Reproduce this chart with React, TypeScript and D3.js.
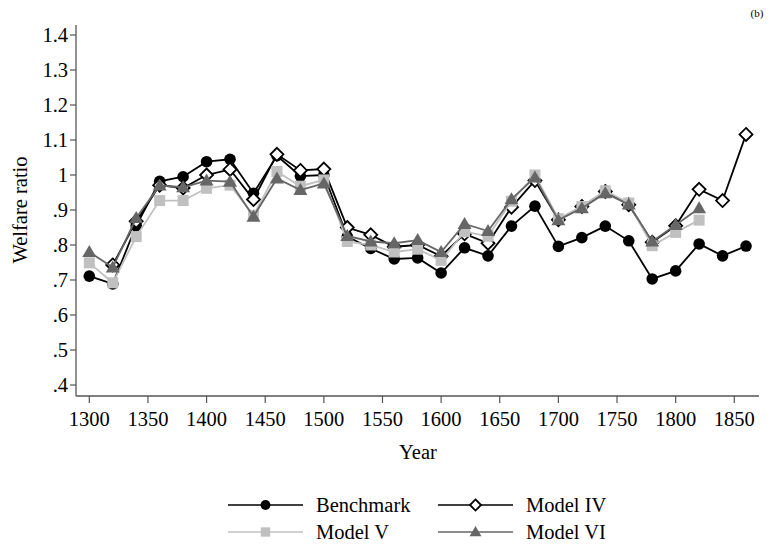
import React from "react";
import * as d3 from "d3";

const years = [1300,1320,1340,1360,1380,1400,1420,1440,1460,1480,1500,1520,1540,1560,1580,1600,1620,1640,1660,1680,1700,1720,1740,1760,1780,1800,1820,1840,1860];

const benchmark = [0.711,0.689,0.855,0.982,0.995,1.038,1.045,0.948,1.055,0.997,1.0,0.824,0.79,0.76,0.763,0.72,0.792,0.769,0.854,0.911,0.796,0.821,0.854,0.812,0.703,0.726,0.803,0.769,0.797];
const modelIV = [null,0.743,0.868,0.971,0.963,1.0,1.016,0.93,1.059,1.013,1.017,0.85,0.829,0.795,0.8,0.768,0.832,0.805,0.908,0.984,0.872,0.91,0.953,0.915,0.808,0.855,0.959,0.927,1.116];
const modelV = [0.749,0.692,0.824,0.927,0.927,0.962,0.971,0.885,1.01,0.968,0.986,0.81,0.8,0.78,0.788,0.756,0.838,0.825,0.925,1.0,0.875,0.91,0.955,0.92,0.798,0.836,0.871,null,null];
const modelVI = [0.78,0.736,0.877,0.97,0.965,0.984,0.981,0.881,0.99,0.957,0.976,0.826,0.81,0.805,0.814,0.78,0.86,0.84,0.931,0.993,0.871,0.905,0.948,0.916,0.81,0.857,0.905,null,null];

const xTicks = [1300,1350,1400,1450,1500,1550,1600,1650,1700,1750,1800,1850];
const yTicks = [0.4,0.5,0.6,0.7,0.8,0.9,1.0,1.1,1.2,1.3,1.4];

const W = 776, H = 547;
const x = d3.scaleLinear().domain([1300, 1850]).range([89.3, 734.3]);
const y = d3.scaleLinear().domain([0.4, 1.4]).range([385, 35]);
const X0 = 76, X1 = 759, Y0 = 396, Y1 = 25;
const font = '"Liberation Serif", "DejaVu Serif", serif';
const ts: React.CSSProperties = { fontFamily: font };
const FS = 20.5;

const fmt = (v: number) => {
  const s = d3.format(".1f")(v);
  if (s.endsWith(".0")) return s.slice(0, -2);
  return s.startsWith("0") ? s.slice(1) : s;
};

type Pt = [number, number];
const pts = (vals: (number | null)[]): Pt[] =>
  vals.map((v, i) => (v == null ? null : ([years[i], v] as Pt))).filter((p): p is Pt => p !== null);

const line = d3.line<Pt>().x((d) => x(d[0])).y((d) => y(d[1]));

function Marker({ kind, cx, cy, s = 1 }: { kind: string; cx: number; cy: number; s?: number }) {
  if (kind === "circle") return <circle cx={cx} cy={cy} r={5.8 * s} fill="#000" />;
  if (kind === "diamond") {
    const r = 6.5 * s;
    return (
      <path
        d={`M${cx},${cy - r}L${cx + r},${cy}L${cx},${cy + r}L${cx - r},${cy}Z`}
        fill="#fff"
        stroke="#000"
        strokeWidth={1.8}
      />
    );
  }
  if (kind === "square") {
    const h = 5.5 * s;
    return <rect x={cx - h} y={cy - h} width={2 * h} height={2 * h} fill="#c0c0c0" />;
  }
  return (
    <path d={`M${cx},${cy - 7 * s}L${cx + 7 * s},${cy + 5 * s}L${cx - 7 * s},${cy + 5 * s}Z`} fill="#666" />
  );
}

const series = [
  { name: "Benchmark", vals: benchmark, color: "#000", kind: "circle" },
  { name: "Model IV", vals: modelIV, color: "#000", kind: "diamond" },
  { name: "Model V", vals: modelV, color: "#c0c0c0", kind: "square" },
  { name: "Model VI", vals: modelVI, color: "#666", kind: "triangle" },
];

const legendPos = [
  { lx: 228, ly: 505 },
  { lx: 438, ly: 505 },
  { lx: 228, ly: 532 },
  { lx: 438, ly: 532 },
];

export default function App() {
  return (
    <svg width={W} height={H} style={{ position: "absolute", left: 0, top: 0, background: "#fff" }}>
      <rect width={W} height={H} fill="#fff" />
      <text x={757} y={17} fontSize={11} textAnchor="middle" fill="#000" style={ts}>(b)</text>
      {/* axes */}
      <line x1={X0} y1={Y1} x2={X0} y2={Y0} stroke="#555" strokeWidth={1.3} />
      <line x1={X0} y1={Y0} x2={X1} y2={Y0} stroke="#555" strokeWidth={1.3} />
      {yTicks.map((t) => (
        <g key={t}>
          <line x1={X0 - 6} x2={X0} y1={y(t)} y2={y(t)} stroke="#555" strokeWidth={1.2} />
          <text x={X0 - 8} y={y(t)} dy="0.35em" fontSize={FS} textAnchor="end" fill="#000" style={ts}>{fmt(t)}</text>
        </g>
      ))}
      {xTicks.map((t) => (
        <g key={t}>
          <line x1={x(t)} x2={x(t)} y1={Y0} y2={Y0 + 7} stroke="#555" strokeWidth={1.2} />
          <text x={x(t)} y={426} fontSize={FS} textAnchor="middle" fill="#000" style={ts}>{t}</text>
        </g>
      ))}
      <text x={418} y={459} fontSize={FS} textAnchor="middle" fill="#000" style={ts}>Year</text>
      <text transform="translate(27,210) rotate(-90)" fontSize={FS} textAnchor="middle" fill="#000" style={ts}>Welfare ratio</text>
      {/* series */}
      {series.map((s) => {
        const p = pts(s.vals);
        return (
          <g key={s.name}>
            <path d={line(p) || ""} fill="none" stroke={s.color} strokeWidth={1.8} />
            {p.map((d, i) => (
              <Marker key={i} kind={s.kind} cx={x(d[0])} cy={y(d[1])} />
            ))}
          </g>
        );
      })}
      {/* legend */}
      {series.map((s, i) => {
        const { lx, ly } = legendPos[i];
        return (
          <g key={s.name}>
            <line x1={lx} x2={lx + 75} y1={ly} y2={ly} stroke={s.color} strokeWidth={1.6} />
            <Marker kind={s.kind} cx={lx + 37.5} cy={ly} s={0.85} />
            <text x={lx + 88} y={ly} dy="0.35em" fontSize={FS} fill="#000" style={ts}>{s.name}</text>
          </g>
        );
      })}
    </svg>
  );
}
